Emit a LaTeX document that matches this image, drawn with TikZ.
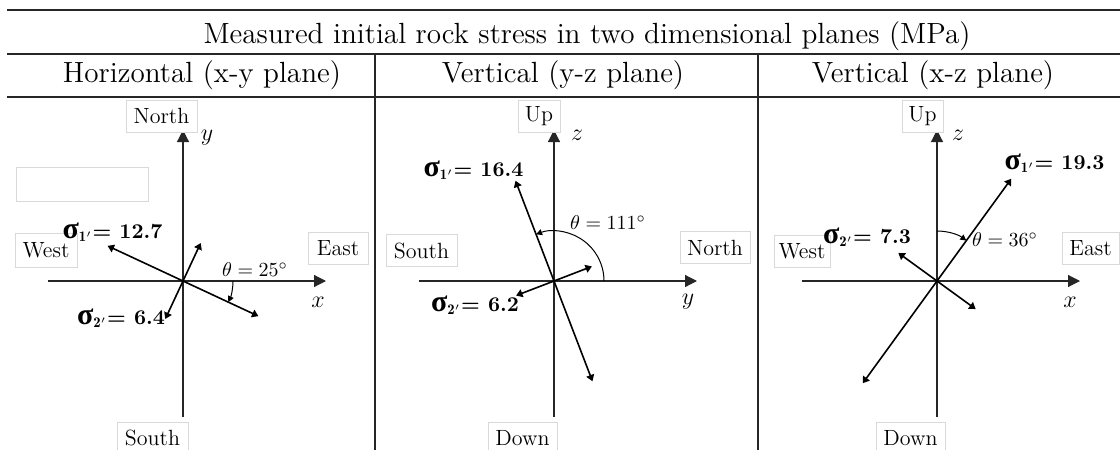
\documentclass[tikz,border=0pt]{standalone}
\usepackage{amsmath}
\usepackage{fontspec}
\newfontfamily\grkfont{Liberation Serif}
\newcommand{\sig}[1]{{\grkfont\bfseries\fontsize{15}{15}\selectfont σ}$_{\mathbf{#1}'}$}
\usetikzlibrary{arrows.meta}

\begin{document}
\begin{tikzpicture}[x=0.5pt,y=-0.5pt,
    rule/.style={line width=0.8pt, black!85},
    dirbox/.style={draw=black!15, fill=white, line width=0.5pt, inner sep=0pt,
      minimum height=16pt, font=\fontsize{11}{13}\selectfont},
    axis/.style={line width=0.6pt, black!85, -{Triangle[length=6pt,width=6pt]}},
    stress/.style={line width=0.8pt,
      {Triangle[length=3.2pt,width=4pt]}-{Triangle[length=3.2pt,width=4pt]}},
    angarc/.style={line width=0.5pt, -{Triangle[length=3pt,width=3pt]}},
    axlabel/.style={font=\fontsize{13}{15}\selectfont},
    slabel/.style={font=\fontsize{10.5}{12}\selectfont\bfseries, inner sep=1pt},
    tlabel/.style={font=\fontsize{10}{12}\selectfont},
    head/.style={anchor=base, font=\fontsize{14.6}{17}\selectfont}]

  \useasboundingbox (0,0) rectangle (1120,450);

  % table rules
  \draw[rule, line width=1pt] (7,10) -- (1120,10);
  \draw[rule] (7,54) -- (1120,54);
  \draw[rule] (7,97) -- (1120,97);
  \draw[rule] (375,54) -- (375,450);
  \draw[rule] (758,54) -- (758,450);

  \node[head] (title) at (587,43) {Measured initial rock stress in two dimensional planes (MPa)};
  \node[head] (hxy) at (202,82) {Horizontal (x-y plane)};
  \node[head] (hyz) at (563,82) {Vertical (y-z plane)};
  \node[head] (hxz) at (933,82) {Vertical (x-z plane)};

  % horizontal x-y plane
  \begin{scope}[shift={(183,281)}]
    \coordinate (o1) at (0,0);
    \coordinate (w1) at (-135,0);
    \coordinate (e1) at (143,0);
    \coordinate (s1) at (0,136);
    \coordinate (n1) at (0,-151);
    \draw[axis] (w1) -- (e1);
    \draw[axis] (s1) -- (n1);

    \node[dirbox, minimum width=35.5pt] (north1) at (-21.5,-165) {North};
    \node[dirbox, minimum width=31pt, minimum height=17pt] (west1) at (-137,-31) {West};
    \node[dirbox, minimum width=30pt] (east1) at (155,-33) {East};
    \node[dirbox, minimum width=35.5pt] (south1) at (-30.5,157) {South};
    \node[dirbox, minimum width=66pt, minimum height=17pt] (blank1) at (-101,-97) {};
    \node[axlabel] (y1) at (24,-143) {$y$};
    \node[axlabel] (x1) at (135,21) {$x$};

    \coordinate (p1a) at (205:83.2);
    \coordinate (p1b) at (25:83.2);
    \coordinate (q1a) at (115:41.9);
    \coordinate (q1b) at (-65:41.9);
    \draw[stress] (p1a) -- (p1b);
    \draw[stress] (q1a) -- (q1b);

    \node[slabel] (sig11) at (-70.5,-49) {\sig{1}= 12.7};
    \node[slabel] (sig21) at (-62,37) {\sig{2}= 6.4};
    \node[tlabel] (th1) at (72,-11) {$\theta = 25^\circ$};
    \draw[angarc] (0:50) arc[start angle=0, end angle=25, radius=50];
  \end{scope}

  % vertical y-z plane
  \begin{scope}[shift={(554,281)}]
    \coordinate (o2) at (0,0);
    \coordinate (w2) at (-135,0);
    \coordinate (e2) at (143,0);
    \coordinate (s2) at (0,136);
    \coordinate (n2) at (0,-151);
    \draw[axis] (w2) -- (e2);
    \draw[axis] (s2) -- (n2);

    \node[dirbox, minimum width=21pt] (up2) at (-15,-165) {Up};
    \node[dirbox, minimum width=35.5pt] (south2) at (-132.5,-30.5) {South};
    \node[dirbox, minimum width=35pt] (north2) at (161,-33.5) {North};
    \node[dirbox, minimum width=34.5pt] (down2) at (-31.5,157) {Down};
    \node[axlabel] (z2) at (23,-146) {$z$};
    \node[axlabel] (y2) at (134,21) {$y$};

    \coordinate (p2a) at (-111:107.4);
    \coordinate (p2b) at (69:107.4);
    \coordinate (q2a) at (-21:40.6);
    \coordinate (q2b) at (159:40.6);
    \draw[stress] (p2a) -- (p2b);
    \draw[stress] (q2a) -- (q2b);

    \node[slabel] (sig12) at (-80.5,-111) {\sig{1}= 16.4};
    \node[slabel] (sig22) at (-79,24) {\sig{2}= 6.2};
    \node[tlabel] (th2) at (54,-58) {$\theta = 111^\circ$};
    \draw[angarc] (0:50) arc[start angle=0, end angle=-111, radius=50];
  \end{scope}

  % vertical x-z plane
  \begin{scope}[shift={(937,281)}]
    \coordinate (o3) at (0,0);
    \coordinate (w3) at (-135,0);
    \coordinate (e3) at (143,0);
    \coordinate (s3) at (0,136);
    \coordinate (n3) at (0,-151);
    \draw[axis] (w3) -- (e3);
    \draw[axis] (s3) -- (n3);

    \node[dirbox, minimum width=20.5pt] (up3) at (-14.5,-165) {Up};
    \node[dirbox, minimum width=28pt] (west3) at (-135,-30) {West};
    \node[dirbox, minimum width=28.5pt] (east3) at (153.5,-33) {East};
    \node[dirbox, minimum width=34.5pt] (down3) at (-26.5,157) {Down};
    \node[axlabel] (z3) at (21,-146) {$z$};
    \node[axlabel] (x3) at (133,21) {$x$};

    \coordinate (p3a) at (-54:126.4);
    \coordinate (p3b) at (126:126.4);
    \coordinate (q3a) at (-144:47.8);
    \coordinate (q3b) at (36:47.8);
    \draw[stress] (p3a) -- (p3b);
    \draw[stress] (q3a) -- (q3b);

    \node[slabel] (sig13) at (117.5,-118) {\sig{1}= 19.3};
    \node[slabel] (sig23) at (-70,-44) {\sig{2}= 7.3};
    \node[tlabel] (th3) at (68,-41) {$\theta = 36^\circ$};
    \draw[angarc] (-90:50) arc[start angle=-90, end angle=-54, radius=50];
  \end{scope}

\end{tikzpicture}
\end{document}
